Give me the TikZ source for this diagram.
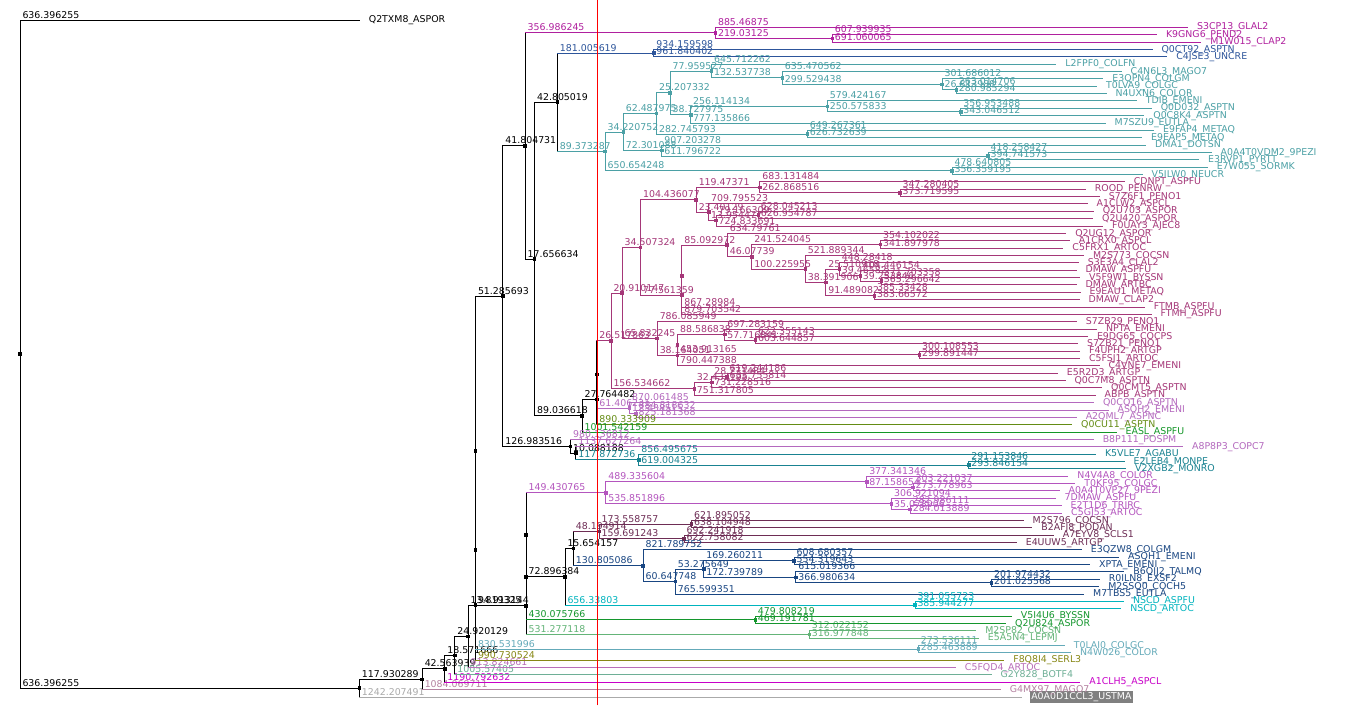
\documentclass[tikz,border=0pt]{standalone}
\usepackage{fontspec}
\setmainfont{DejaVu Sans}
\usetikzlibrary{calc}
\definecolor{cmag}{RGB}{176,32,158}
\definecolor{cblue}{RGB}{45,85,155}
\definecolor{cteal}{RGB}{75,160,165}
\definecolor{crasp}{RGB}{165,55,120}
\definecolor{clav}{RGB}{180,105,190}
\definecolor{colive}{RGB}{100,140,20}
\definecolor{cgreen}{RGB}{20,150,40}
\definecolor{cdteal}{RGB}{25,130,145}
\definecolor{cpurple}{RGB}{180,85,190}
\definecolor{cmaroon}{RGB}{110,45,85}
\definecolor{cnavy}{RGB}{25,70,130}
\definecolor{ccyan}{RGB}{0,180,190}
\definecolor{cgreentwo}{RGB}{20,150,45}
\definecolor{clgreen}{RGB}{100,180,120}
\definecolor{clteal}{RGB}{100,170,185}
\definecolor{colivetwo}{RGB}{135,135,20}
\definecolor{cmauve}{RGB}{185,110,185}
\definecolor{cgt}{RGB}{110,175,150}
\definecolor{cmagtwo}{RGB}{200,0,200}
\definecolor{cmb}{RGB}{180,130,160}
\definecolor{cgrey}{RGB}{170,170,170}
\definecolor{cbox}{RGB}{128,128,128}
\newcommand\bscale{0.53326pt}
\newcommand\ystep{7.359pt}
\tikzset{
  bl/.style={anchor=base west,inner sep=0pt,xshift=2pt,yshift=2pt},
  ll/.style={anchor=base west,inner sep=0pt,xshift=9pt,yshift=-2.6pt},
}
\newcommand\Br[6]{%
  \path let \p1=(#1) in coordinate (#3) at ({\x1+#4*\bscale},{-20pt-#5*\ystep});%
  \draw[#2] (#1) -- (#1 |- #3);%
  \draw[#6] (#1 |- #3) -- (#3);%
  \node[bl,text=#6] (b#3) at (#1 |- #3) {#4};%
  \fill[#6] (#3) +(-1.8pt,-1.8pt) rectangle +(1.8pt,1.8pt);%
}
\newcommand\Zb[4]{%
  \path let \p1=(#1) in coordinate (#3) at (\x1,{-20pt-#4*\ystep});%
  \draw[#2] (#1) -- (#3);%
  \fill[#2] (#3) +(-1.8pt,-1.8pt) rectangle +(1.8pt,1.8pt);%
}
\newcommand\Lf[7]{%
  \path let \p1=(#1) in coordinate (#3) at ({\x1+#4*\bscale},{-20pt-#5*\ystep});%
  \draw[#2] (#1) -- (#1 |- #3);%
  \draw[#6] (#1 |- #3) -- (#3);%
  \node[bl,text=#6] (b#3) at (#1 |- #3) {#4};%
  \node[ll,text=#6] (t#3) at (#3) {#7};%
}
\begin{document}
\begin{tikzpicture}[line width=1pt,line cap=rect,font=\fontsize{9.4}{11}\selectfont]
\fill[white] (0pt,0pt) rectangle (1360pt,-705pt);
\useasboundingbox (0pt,0pt) rectangle (1360pt,-705pt);
\coordinate (root) at (20pt,{-20pt-45.39872*\ystep});
\fill[black] (root) +(-1.8pt,-1.8pt) rectangle +(1.8pt,1.8pt);
\Lf{root}{black}{l0}{636.396255}{0}{black}{Q2TXM8\_ASPOR}
\Br{root}{black}{n358}{636.396255}{90.79743}{black}
% grey selected leaf
\path let \p1=(n358) in coordinate (l92) at ({\x1+1242.207491*\bscale},{-20pt-92*\ystep});
\draw[black] (n358) -- (n358 |- l92);
\draw[cgrey] (n358 |- l92) -- (l92);
\node[bl,text=cgrey] (bl92) at (n358 |- l92) {1242.207491};
\node[anchor=base west,inner xsep=1pt,inner ysep=1.5pt,xshift=8pt,yshift=-2.6pt,fill=cbox,text=white] (tl92) at (l92) {A0A0D1CCL3\_USTMA};
\Br{n358}{black}{n117}{117.930289}{89.59487}{black}
\Lf{n117}{black}{l91}{1084.069711}{91}{cmb}{G4MX97\_MAGO7}
\Br{n117}{black}{n42}{42.563939}{88.18973}{black}
\Lf{n42}{black}{l90}{1190.792632}{90}{cmagtwo}{A1CLH5\_ASPCL}
\Br{n42}{black}{n18}{18.571666}{86.37946}{black}
\Lf{n18}{black}{l89}{1005.57405}{89}{cgt}{G2Y828\_BOTF4}
\Br{n18}{black}{n24}{24.920129}{83.75892}{black}
\Lf{n24}{black}{l88}{913.824661}{88}{cmauve}{C5FQD4\_ARTOC}
\Br{n24}{black}{n13}{13.819325}{79.51783}{black}
\Lf{n13}{black}{l87}{990.730524}{87}{colivetwo}{F8Q8I4\_SERL3}
\Zb{n13}{black}{ny}{72.03566}
\Br{ny}{black}{n273}{830.531996}{85.5}{clteal}
\Lf{n273}{clteal}{l85}{273.536111}{85}{clteal}{T0LAI0\_COLGC}
\Lf{n273}{clteal}{l86}{285.463889}{86}{clteal}{N4W026\_COLOR}
\Zb{ny}{black}{nA}{58.57131}
\Br{nA}{black}{ns3}{94.913144}{79.61426}{black}
\Br{ns3}{black}{n312}{531.277118}{83.5}{clgreen}
\Lf{n312}{clgreen}{l83}{312.022152}{83}{clgreen}{M2SP82\_COCSN}
\Lf{n312}{clgreen}{l84}{316.977848}{84}{clgreen}{E5A5N4\_LEPMJ}
\Zb{ns3}{black}{ns2}{75.72852}
\Br{ns2}{black}{n479}{430.075766}{81.5}{cgreentwo}
\Lf{n479}{cgreentwo}{l81}{479.808219}{81}{cgreentwo}{V5I4U6\_BYSSN}
\Lf{n479}{cgreentwo}{l82}{469.191781}{82}{cgreentwo}{Q2U824\_ASPOR}
\Zb{ns2}{black}{ns1}{69.95703}
\Br{ns1}{black}{n149}{149.430765}{64.25}{cpurple}
\Br{n149}{cpurple}{n377}{489.335604}{62.75}{cpurple}
\Lf{n377}{cpurple}{l62}{377.341346}{62}{cpurple}{N4V4A8\_COLOR}
\Br{n377}{cpurple}{n87}{87.158654}{63.5}{cpurple}
\Lf{n87}{cpurple}{l63}{303.221037}{63}{cpurple}{T0KF95\_COLGC}
\Lf{n87}{cpurple}{l64}{273.778963}{64}{cpurple}{A0A4T0VP27\_9PEZI}
\Br{n149}{cpurple}{n535}{535.851896}{65.75}{cpurple}
\Lf{n535}{cpurple}{l65}{306.921094}{65}{cpurple}{7DMAW\_ASPFU}
\Br{n535}{cpurple}{n35}{35.078906}{66.5}{cpurple}
\Lf{n35}{cpurple}{l66}{282.986111}{66}{cpurple}{E2T1D6\_TRIRC}
\Lf{n35}{cpurple}{l67}{284.013889}{67}{cpurple}{C5GJ53\_ARTOC}
\Br{ns1}{black}{n72}{72.896384}{75.6640625}{black}
\Br{n72}{black}{n15}{15.654157}{71.828125}{black}
\Br{n15}{black}{n48}{48.194914}{69.5}{cmaroon}
\Br{n48}{cmaroon}{n173}{173.558757}{68.5}{cmaroon}
\Lf{n173}{cmaroon}{l68}{621.895052}{68}{cmaroon}{M2S796\_COCSN}
\Lf{n173}{cmaroon}{l69}{638.104948}{69}{cmaroon}{B2AFJ8\_PODAN}
\Br{n48}{cmaroon}{n159}{159.691243}{70.5}{cmaroon}
\Lf{n159}{cmaroon}{l70}{692.241918}{70}{cmaroon}{A7EYV8\_SCLS1}
\Lf{n159}{cmaroon}{l71}{622.758082}{71}{cmaroon}{E4UUW5\_ARTGP}
\Br{n15}{black}{n130}{130.805086}{74.15625}{cnavy}
\Lf{n130}{cnavy}{l72}{821.789752}{72}{cnavy}{E3QZW8\_COLGM}
\Br{n130}{cnavy}{n60}{60.647748}{76.3125}{cnavy}
\Br{n60}{cnavy}{n53}{53.275649}{74.625}{cnavy}
\Br{n53}{cnavy}{n169}{169.260211}{73.5}{cnavy}
\Lf{n169}{cnavy}{l73}{608.680357}{73}{cnavy}{ASQH1\_EMENI}
\Lf{n169}{cnavy}{l74}{554.319643}{74}{cnavy}{XPTA\_EMENI}
\Br{n53}{cnavy}{n172}{172.739789}{75.75}{cnavy}
\Lf{n172}{cnavy}{l75}{615.019366}{75}{cnavy}{B6QIJ2\_TALMQ}
\Br{n172}{cnavy}{n201}{366.980634}{76.5}{cnavy}
\Lf{n201}{cnavy}{l76}{201.974432}{76}{cnavy}{R0ILN8\_EXSF2}
\Lf{n201}{cnavy}{l77}{201.025568}{77}{cnavy}{M2SSQ0\_COCH5}
\Lf{n60}{cnavy}{l78}{765.599351}{78}{cnavy}{M7TBS5\_EUTLA}
\Br{n72}{black}{nscd}{656.33803}{79.5}{ccyan}
\Lf{nscd}{ccyan}{l79}{391.055723}{79}{ccyan}{NSCD\_ASPFU}
\Lf{nscd}{ccyan}{l80}{385.944277}{80}{ccyan}{NSCD\_ARTOC}
% upper half
\Br{nA}{black}{n51}{51.285693}{37.52836}{black}
\Br{n51}{black}{n41}{41.804731}{17.11923}{black}
\Br{n41}{black}{n356}{356.986245}{1.75}{cmag}
\Lf{n356}{cmag}{l1}{885.46875}{1}{cmag}{S3CP13\_GLAL2}
\Br{n356}{cmag}{n832}{219.03125}{2.5}{cmag}
\Lf{n832}{cmag}{l2}{607.939935}{2}{cmag}{K9GNG6\_PEND2}
\Lf{n832}{cmag}{l3}{691.060065}{3}{cmag}{M1W015\_CLAP2}
\Br{n41}{black}{n17}{17.656634}{32.48845}{black}
\Br{n17}{black}{n42b}{42.805019}{11.18164}{black}
\Br{n42b}{black}{nbl}{181.005619}{4.5}{cblue}
\Lf{nbl}{cblue}{l4}{934.159598}{4}{cblue}{Q0CT92\_ASPTN}
\Lf{nbl}{cblue}{l5}{961.840402}{5}{cblue}{C4JSE3\_UNCRE}
\Br{n42b}{black}{n89}{89.373287}{17.86328}{cteal}
\Br{n89}{cteal}{n34t}{34.220752}{15.2265625}{cteal}
\Br{n34t}{cteal}{n62}{62.487975}{12.703125}{cteal}
\Br{n62}{cteal}{n25}{25.207332}{9.90625}{cteal}
\Br{n25}{cteal}{n77}{77.959527}{6.9375}{cteal}
\Lf{n77}{cteal}{l6}{645.712262}{6}{cteal}{L2FPF0\_COLFN}
\Br{n77}{cteal}{n132}{132.537738}{7.875}{cteal}
\Lf{n132}{cteal}{l7}{635.470562}{7}{cteal}{C4N6L3\_MAGO7}
\Br{n132}{cteal}{n299}{299.529438}{8.75}{cteal}
\Lf{n299}{cteal}{l8}{301.686012}{8}{cteal}{E3QPN4\_COLGM}
\Br{n299}{cteal}{n26}{26.813988}{9.5}{cteal}
\Lf{n26}{cteal}{l9}{263.014706}{9}{cteal}{T0LVA9\_COLGC}
\Lf{n26}{cteal}{l10}{280.985294}{10}{cteal}{N4UXN6\_COLOR}
\Br{n25}{cteal}{n38}{38.727975}{12.875}{cteal}
\Br{n38}{cteal}{n256}{256.114134}{11.75}{cteal}
\Lf{n256}{cteal}{l11}{579.424167}{11}{cteal}{TDIB\_EMENI}
\Br{n256}{cteal}{n960}{250.575833}{12.5}{cteal}
\Lf{n960}{cteal}{l12}{356.953488}{12}{cteal}{Q0D032\_ASPTN}
\Lf{n960}{cteal}{l13}{343.046512}{13}{cteal}{Q0C8K4\_ASPTN}
\Lf{n38}{cteal}{l14}{777.135866}{14}{cteal}{M7SZU9\_EUTLA}
\Br{n62}{cteal}{n282}{282.745793}{15.5}{cteal}
\Lf{n282}{cteal}{l15}{649.267361}{15}{cteal}{E9FAP4\_METAQ}
\Lf{n282}{cteal}{l16}{626.732639}{16}{cteal}{E9EAP5\_METAQ}
\Br{n34t}{cteal}{n72t}{72.301088}{17.75}{cteal}
\Lf{n72t}{cteal}{l17}{907.203278}{17}{cteal}{DMA1\_DOTSN}
\Br{n72t}{cteal}{n987}{611.796722}{18.5}{cteal}
\Lf{n987}{cteal}{l18}{418.258427}{18}{cteal}{A0A4T0VDM2\_9PEZI}
\Lf{n987}{cteal}{l19}{394.741573}{19}{cteal}{E3RVP1\_PYRTT}
\Br{n89}{cteal}{n650}{650.654248}{20.5}{cteal}
\Lf{n650}{cteal}{l20}{478.640805}{20}{cteal}{E7W055\_SORMK}
\Lf{n650}{cteal}{l21}{356.359195}{21}{cteal}{V5ILW0\_NEUCR}
\Br{n17}{black}{n89b}{89.036618}{53.79526}{black}
\Br{n89b}{black}{n27}{27.764482}{51.59052}{black}
\Zb{n27}{black}{nr}{48.18103}
\Br{nr}{black}{n26x}{26.517863}{43.61206}{crasp}
\Br{n26x}{crasp}{n20}{20.910147}{37.09912}{crasp}
\Br{n20}{crasp}{n34r}{34.507324}{30.91699}{crasp}
\Br{n34r}{crasp}{n104}{104.436077}{24.4375}{crasp}
\Br{n104}{crasp}{n683}{119.47371}{22.75}{crasp}
\Lf{n683}{crasp}{l22}{683.131484}{22}{crasp}{CDNPT\_ASPFU}
\Br{n683}{crasp}{n347}{262.868516}{23.5}{crasp}
\Lf{n347}{crasp}{l23}{347.280405}{23}{crasp}{ROOD\_PENRW}
\Lf{n347}{crasp}{l24}{373.719595}{24}{crasp}{S7Z6F1\_PENO1}
\Br{n104}{crasp}{n23}{23.40129}{26.125}{crasp}
\Lf{n23}{crasp}{l25}{709.795523}{25}{crasp}{A1CLW2\_ASPCL}
\Br{n23}{crasp}{n1x}{13.954477}{27.25}{crasp}
\Br{n1x}{crasp}{n628}{79.166309}{26.5}{crasp}
\Lf{n628}{crasp}{l26}{628.045213}{26}{crasp}{Q2U703\_ASPOR}
\Lf{n628}{crasp}{l27}{626.954787}{27}{crasp}{Q2U420\_ASPOR}
\Lf{n1x}{crasp}{l28}{724.833691}{28}{crasp}{F0UAY3\_AJEC8}
\Br{n34r}{crasp}{nx}{77.561359}{37.39648}{crasp}
\Zb{nx}{crasp}{n77r}{34.79297}
\Br{n77r}{crasp}{n85}{85.092972}{30.5859375}{crasp}
\Lf{n85}{crasp}{l29}{634.79761}{29}{crasp}{Q2UG12\_ASPOR}
\Br{n85}{crasp}{n46}{46.07739}{32.171875}{crasp}
\Br{n46}{crasp}{n241}{241.524045}{30.5}{crasp}
\Lf{n241}{crasp}{l30}{354.102022}{30}{crasp}{A1CRX0\_ASPCL}
\Lf{n241}{crasp}{l31}{341.897978}{31}{crasp}{C5FRX1\_ARTOC}
\Br{n46}{crasp}{n100}{100.225955}{33.84375}{crasp}
\Lf{n100}{crasp}{l32}{521.889344}{32}{crasp}{M2S773\_COCSN}
\Br{n100}{crasp}{n38r}{38.391906}{35.6875}{crasp}
\Br{n38r}{crasp}{n25r}{25.510918}{33.875}{crasp}
\Lf{n25r}{crasp}{l33}{448.28418}{33}{crasp}{S3E3A4\_CLAL2}
\Br{n25r}{crasp}{n39a}{39.46582}{34.75}{crasp}
\Lf{n39a}{crasp}{l34}{404.446154}{34}{crasp}{DMAW\_ASPFU}
\Br{n39a}{crasp}{n39b}{39.253846}{35.5}{crasp}
\Lf{n39b}{crasp}{l35}{371.703358}{35}{crasp}{V5F9W1\_BYSSN}
\Lf{n39b}{crasp}{l36}{365.296642}{36}{crasp}{DMAW\_ARTBC}
\Br{n38r}{crasp}{n91}{91.489082}{37.5}{crasp}
\Lf{n91}{crasp}{l37}{385.33428}{37}{crasp}{E9EAU1\_METAQ}
\Lf{n91}{crasp}{l38}{383.66572}{38}{crasp}{DMAW\_CLAP2}
\Lf{n77r}{crasp}{l39}{867.28984}{39}{crasp}{FTMB\_ASPFU}
\Lf{nx}{crasp}{l40}{879.703542}{40}{crasp}{FTMH\_ASPFU}
\Br{n20}{crasp}{n65}{65.832245}{43.28125}{crasp}
\Lf{n65}{crasp}{l41}{786.085949}{41}{crasp}{S7ZB29\_PENO1}
\Br{n65}{crasp}{n38c}{38.164051}{45.5625}{crasp}
\Zb{n38c}{crasp}{nyp}{44.125}
\Br{nyp}{crasp}{n88}{88.586838}{42.75}{crasp}
\Lf{n88}{crasp}{l42}{697.283159}{42}{crasp}{NPTA\_EMENI}
\Br{n88}{crasp}{n57}{57.716841}{43.5}{crasp}
\Lf{n57}{crasp}{l43}{622.355143}{43}{crasp}{E9DG65\_COCPS}
\Lf{n57}{crasp}{l44}{603.644857}{44}{crasp}{S7ZB21\_PENO1}
\Br{nyp}{crasp}{n300}{453.913165}{45.5}{crasp}
\Lf{n300}{crasp}{l45}{300.108553}{45}{crasp}{F4UPH2\_ARTGP}
\Lf{n300}{crasp}{l46}{299.891447}{46}{crasp}{C5FSJ1\_ARTOC}
\Lf{n38c}{crasp}{l47}{790.447388}{47}{crasp}{C4VNE7\_EMENI}
\Br{n26x}{crasp}{n156}{156.534662}{50.125}{crasp}
\Br{n156}{crasp}{n32}{32.432195}{49.25}{crasp}
\Br{n32}{crasp}{n28}{28.771484}{48.5}{crasp}
\Lf{n28}{crasp}{l48}{619.244186}{48}{crasp}{E5R2D3\_ARTGP}
\Lf{n28}{crasp}{l49}{633.755814}{49}{crasp}{Q0C7M8\_ASPTN}
\Lf{n32}{crasp}{l50}{731.228516}{50}{crasp}{Q0CMT5\_ASPTN}
\Lf{n156}{crasp}{l51}{751.317805}{51}{crasp}{ABPB\_ASPTN}
\Br{nr}{black}{n61}{61.406231}{52.75}{clav}
\Lf{n61}{clav}{l52}{870.061485}{52}{clav}{Q0CQ16\_ASPTN}
\Br{n61}{clav}{nl2}{12.438515}{53.5}{clav}
\Lf{nl2}{clav}{l53}{884.818632}{53}{clav}{ASQH2\_EMENI}
\Lf{nl2}{clav}{l54}{825.181368}{54}{clav}{A2QML7\_ASPNC}
\Lf{n27}{black}{l55}{890.333909}{55}{colive}{Q0CU11\_ASPTN}
\Lf{n89b}{black}{l56}{1001.542159}{56}{cgreen}{EASL\_ASPFU}
\Br{n51}{black}{n126}{126.983516}{57.9375}{black}
\Lf{n126}{black}{l57}{980.136812}{57}{clav}{B8P111\_POSPM}
\Br{n126}{black}{n10}{10.088188}{58.875}{black}
\Lf{n10}{black}{l58}{1137.627264}{58}{clav}{A8P8P3\_COPC7}
\Br{n10}{black}{n117t}{117.872736}{59.75}{cdteal}
\Lf{n117t}{cdteal}{l59}{856.495675}{59}{cdteal}{K5VLE7\_AGABU}
\Br{n117t}{cdteal}{n291}{619.004325}{60.5}{cdteal}
\Lf{n291}{cdteal}{l60}{291.153846}{60}{cdteal}{E2LEB4\_MONPE}
\Lf{n291}{cdteal}{l61}{293.846154}{61}{cdteal}{V2XGB2\_MONRO}
\draw[red,line width=0.8pt] (597.3pt,0pt) -- (597.3pt,-705pt);
\end{tikzpicture}
\end{document}
